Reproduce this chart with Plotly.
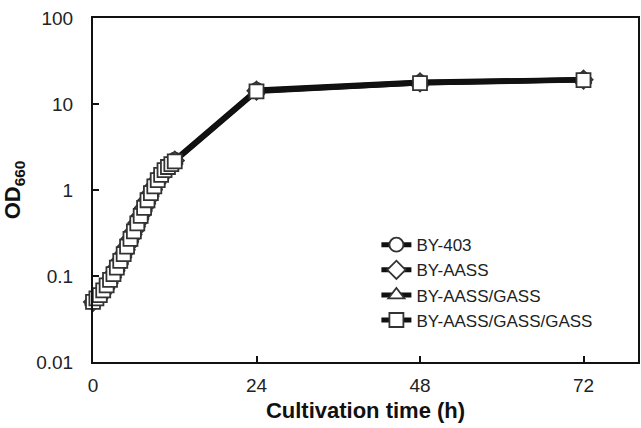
import plotly.graph_objects as go

# Cultivation time (h)
time_h = [0, 0.5, 1, 1.5, 2, 2.5, 3, 3.5, 4, 4.5, 5, 5.5, 6, 6.5, 7, 7.5, 8,
          8.5, 9, 9.5, 10, 10.5, 11, 11.5, 12, 24, 48, 72]

# OD660 values (the four strains nearly overlap)
od_by403 = [0.051, 0.056, 0.061, 0.069, 0.079, 0.091, 0.107, 0.127, 0.152, 0.183,
            0.223, 0.275, 0.335, 0.415, 0.51, 0.63, 0.77, 0.93, 1.12, 1.32, 1.52,
            1.72, 1.9, 2.05, 2.25, 14.6, 18.0, 19.3]
od_aass = [0.050, 0.055, 0.060, 0.068, 0.078, 0.090, 0.106, 0.126, 0.151, 0.182,
           0.222, 0.272, 0.332, 0.412, 0.505, 0.625, 0.765, 0.925, 1.11, 1.31, 1.51,
           1.71, 1.87, 2.02, 2.2, 14.3, 17.8, 19.2]
od_aass_gass = [0.050, 0.055, 0.060, 0.068, 0.078, 0.090, 0.105, 0.125, 0.150, 0.180,
                0.220, 0.270, 0.330, 0.410, 0.50, 0.62, 0.76, 0.92, 1.10, 1.30, 1.50,
                1.70, 1.85, 2.0, 2.18, 14.2, 17.6, 19.1]
od_aass_gass_gass = [0.050, 0.055, 0.060, 0.068, 0.078, 0.090, 0.105, 0.125, 0.150, 0.180,
                     0.220, 0.270, 0.330, 0.410, 0.50, 0.62, 0.76, 0.92, 1.10, 1.30, 1.50,
                     1.70, 1.85, 2.0, 2.15, 14.0, 17.5, 19.0]

series_names = ["BY-403", "BY-AASS", "BY-AASS/GASS", "BY-AASS/GASS/GASS"]
series_values = [od_by403, od_aass, od_aass_gass, od_aass_gass_gass]
series_symbols = ["circle", "diamond", "triangle-up", "square"]

x_ticks = [0, 24, 48, 72]
y_ticks = [0.01, 0.1, 1, 10, 100]
y_ticktext = ["0.01", "0.1", "1", "10", "100"]

fig = go.Figure()
for name, vals, sym in zip(series_names, series_values, series_symbols):
    fig.add_trace(go.Scatter(
        x=time_h, y=vals, name=name, mode="lines+markers",
        line=dict(color="#111111", width=5),
        marker=dict(symbol=sym, size=14,
                    color="white", line=dict(color="#333333", width=1.8)),
        cliponaxis=False,
    ))

fig.update_layout(
    width=641, height=428,
    paper_bgcolor="white", plot_bgcolor="white",
    margin=dict(l=93, r=1, t=18, b=66),
    font=dict(family="Liberation Sans, Arial, sans-serif", color="#222222", size=19),
    showlegend=True,
    legend=dict(x=0.52, y=0.392, xanchor="left", yanchor="top",
                bgcolor="rgba(0,0,0,0)", font=dict(size=17, color="#222222"),
                itemwidth=30, tracegroupgap=0),
)
fig.update_xaxes(
    range=[0, 80], tickvals=x_ticks, ticktext=[str(v) for v in x_ticks],
    ticks="inside", ticklen=6, tickwidth=1.5, tickcolor="#111111",
    ticklabelstandoff=5,
    showline=True, linecolor="#111111", linewidth=2, mirror=True,
    showgrid=False, zeroline=False,
    title=dict(text="<b>Cultivation time (h)</b>", font=dict(size=22, color="#111111"), standoff=8),
)
fig.update_yaxes(
    type="log", range=[-2, 2], tickvals=y_ticks, ticktext=y_ticktext,
    ticks="inside", ticklen=6, tickwidth=1.5, tickcolor="#111111",
    ticklabelstandoff=14,
    showline=True, linecolor="#111111", linewidth=2, mirror=True,
    showgrid=False, zeroline=False,
    title=dict(text="<b>OD<sub>660</sub></b>", font=dict(size=22, color="#111111"), standoff=12),
)

fig.write_html("out.html", config={"displayModeBar": False},
               post_script="document.body.style.margin='0';document.body.style.overflow='hidden';")
